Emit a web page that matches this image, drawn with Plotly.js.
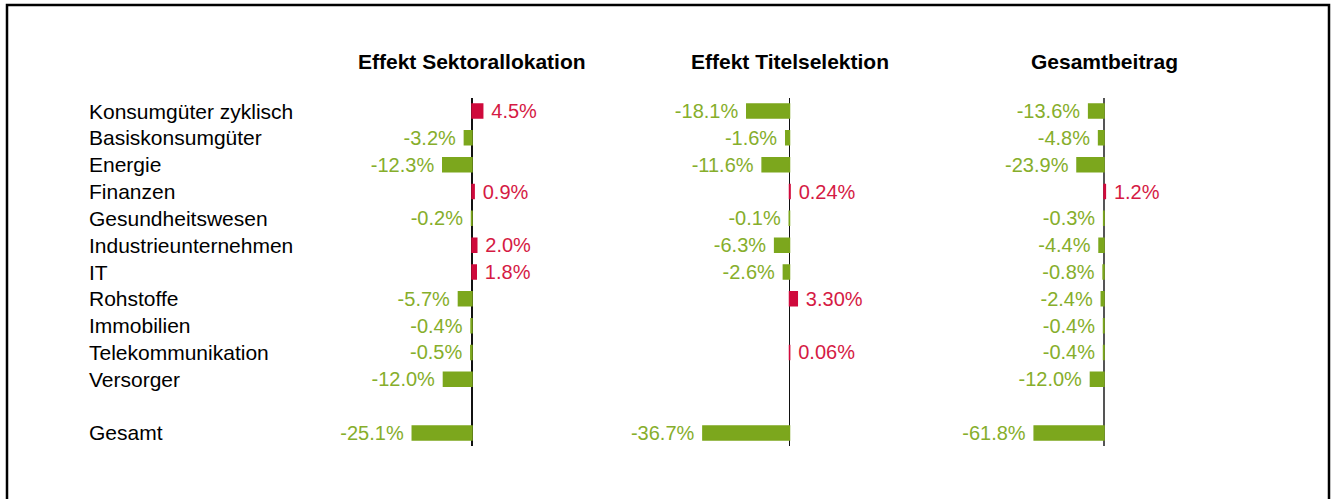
<!DOCTYPE html>
<html>
<head>
<meta charset="utf-8">
<script src="https://cdn.plot.ly/plotly-3.0.1.min.js"></script>
<style>
html,body{margin:0;padding:0;background:#fff;}
#chart{width:1336px;height:499px;}
</style>
</head>
<body>
<div id="chart"></div>
<script>
// ---- data ----
const sectors = ['Konsumgüter zyklisch','Basiskonsumgüter','Energie','Finanzen','Gesundheitswesen','Industrieunternehmen','IT','Rohstoffe','Immobilien','Telekommunikation','Versorger','Gesamt'];
const panelTitles = ['Effekt Sektorallokation','Effekt Titelselektion','Gesamtbeitrag'];
const sektorallokation = [4.5,-3.2,-12.3,0.9,-0.2,2.0,1.8,-5.7,-0.4,-0.5,-12.0,-25.1];
const titelselektion = [-18.1,-1.6,-11.6,0.24,-0.1,-6.3,-2.6,3.30,null,0.06,null,-36.7];
const gesamtbeitrag = [-13.6,-4.8,-23.9,1.2,-0.3,-4.4,-0.8,-2.4,-0.4,-0.4,-12.0,-61.8];
const positiveDecimals = [1,2,1];

// ---- styling ----
const W = 1336, H = 499;
const FONT = '"Liberation Sans", Arial, sans-serif';
const GREEN = '#7ca71d', GREEN_TXT = '#86ae2b';
const RED = '#cf0a3c', RED_TXT = '#d51a44';
const NB = '\u00a0';
const spacer = NB;
const catOrder = sectors.slice(0, 11).concat([spacer], sectors.slice(11));

const series = [sektorallokation, titelselektion, gesamtbeitrag];
// panel pixel geometry: [domainLeft, domainRight, zeroPx, pxPerUnit]
const geo = [[300, 640, 472, 2.38],[650, 960, 789.5, 2.36],[970, 1300, 1104, 1.13]];

const traces = series.map((vals, p) => {
  const axis = p === 0 ? 'x' : 'x' + (p + 1);
  const cols = vals.map(v => v == null ? GREEN : (v >= 0 ? RED : GREEN));
  return {
    type: 'bar', orientation: 'h',
    x: vals, y: sectors, xaxis: axis, yaxis: 'y',
    marker: {color: cols, line: {width: 1.5, color: cols}},
    text: vals.map(v => v == null ? '' : (v >= 0 ? NB + v.toFixed(positiveDecimals[p]) + '%' : v.toFixed(1) + '%' + NB)),
    textposition: 'outside',
    constraintext: 'none',
    cliponaxis: false,
    textfont: {family: FONT, size: 20, color: vals.map(v => v == null ? GREEN_TXT : (v >= 0 ? RED_TXT : GREEN_TXT))},
    hoverinfo: 'skip', showlegend: false
  };
});

const layout = {
  width: W, height: H,
  margin: {l: 0, r: 0, t: 0, b: 0},
  paper_bgcolor: '#fff', plot_bgcolor: 'rgba(0,0,0,0)',
  bargap: 0.48,
  font: {family: FONT, size: 20, color: '#000'},
  yaxis: {
    type: 'category', categoryorder: 'array', categoryarray: catOrder,
    range: [12.5, -0.5],
    domain: [1 - 446.4 / H, 1 - 97.6 / H],
    showticklabels: false, showgrid: false, zeroline: false, showline: false, ticks: ''
  },
  annotations: [],
  shapes: [{
    type: 'rect', xref: 'paper', yref: 'paper',
    x0: 7 / W, x1: 1329 / W, y0: -0.1, y1: 1 - 5 / H,
    line: {color: '#000', width: 2.5}, fillcolor: 'rgba(0,0,0,0)'
  }]
};

geo.forEach((g, p) => {
  const key = p === 0 ? 'xaxis' : 'xaxis' + (p + 1);
  layout[key] = {
    domain: [g[0] / W, g[1] / W],
    range: [(g[0] - g[2]) / g[3], (g[1] - g[2]) / g[3]],
    anchor: 'y',
    showticklabels: false, showgrid: false, showline: false, ticks: '',
    zeroline: true, zerolinecolor: p === 2 ? '#555' : '#111', zerolinewidth: 1.5
  };
  layout.annotations.push({
    xref: p === 0 ? 'x' : 'x' + (p + 1), yref: 'paper',
    x: 0, y: 1 - 61 / H, xanchor: 'center', yanchor: 'middle',
    text: '<b>' + panelTitles[p] + '</b>', showarrow: false,
    font: {family: FONT, size: 21, color: '#000'}
  });
});

sectors.forEach(s => {
  layout.annotations.push({
    xref: 'paper', yref: 'y', x: 87 / W, y: s,
    xanchor: 'left', yanchor: 'middle', text: s, showarrow: false,
    font: {family: FONT, size: 21, color: '#000'}
  });
});

Plotly.newPlot('chart', traces, layout, {staticPlot: true, displayModeBar: false});
</script>
</body>
</html>
